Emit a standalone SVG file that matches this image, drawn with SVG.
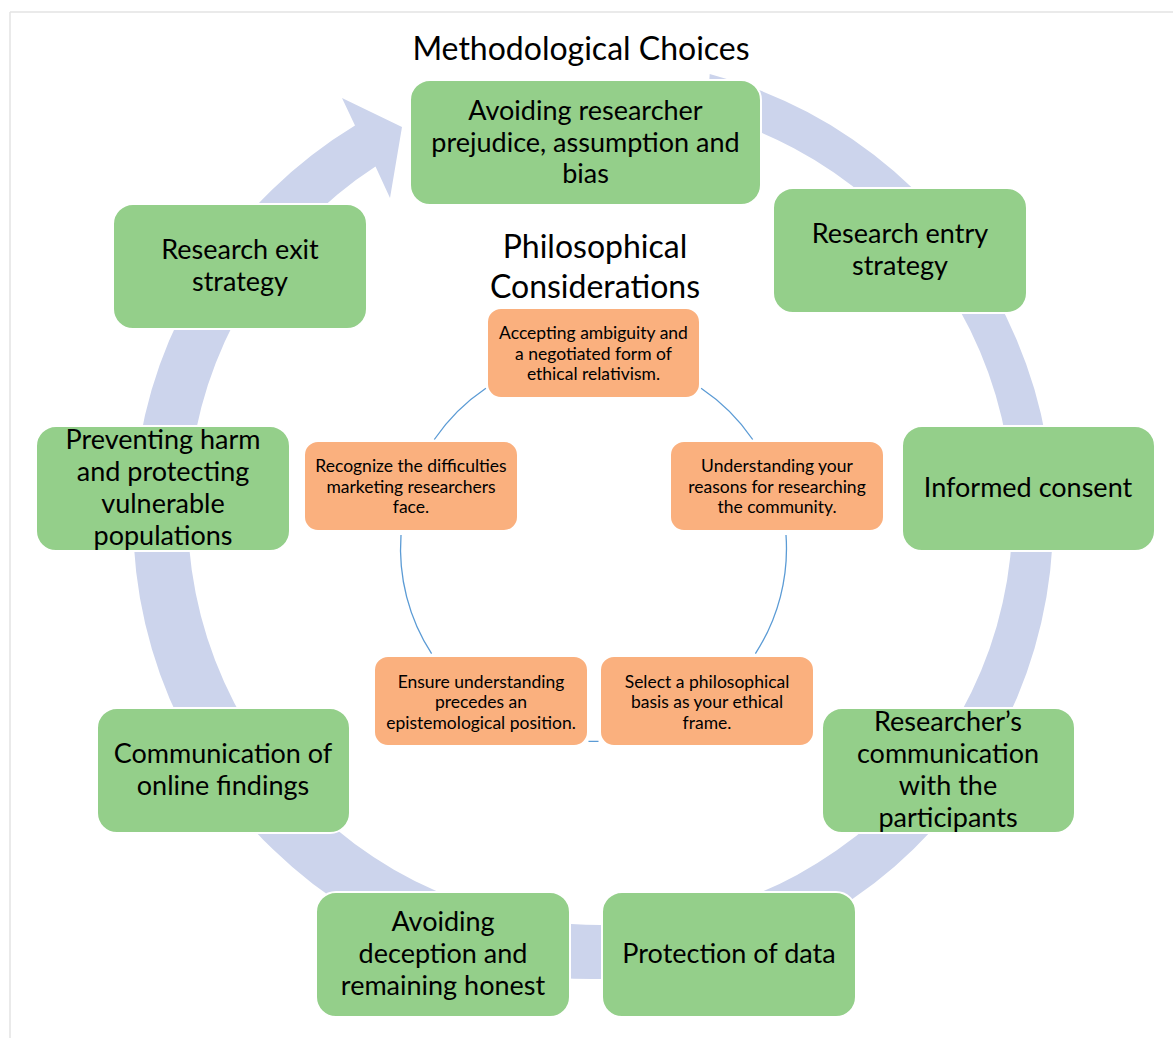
<svg xmlns="http://www.w3.org/2000/svg" width="1173" height="1038" viewBox="0 0 1173 1038">
<style>
.g{fill:#94CF8A;stroke:#fff;stroke-width:2}
.o{fill:#FAB07E;stroke:#fff;stroke-width:2}
.gt{font-family:Lato,"Liberation Sans",sans-serif;font-size:27px;fill:#000;text-anchor:middle}
.ot{font-family:Lato,"Liberation Sans",sans-serif;font-size:17.5px;fill:#000;text-anchor:middle}
.tt{font-family:Lato,"Liberation Sans",sans-serif;font-size:32px;fill:#000;text-anchor:middle}
.arc{fill:none;stroke:#5B9BD5;stroke-width:1.3}
</style>
<rect width="1173" height="1038" fill="#fff"/>
<g id="frame">
<line x1="10" y1="12" x2="1173" y2="12" stroke="#E3E3E3" stroke-width="1.5"/>
<line x1="10" y1="12" x2="10" y2="1038" stroke="#E3E3E3" stroke-width="1.5"/>
</g>
<g id="cycle-arrow">
<path d="M 709.7 74.1 A 460 460 0 1 1 355 125.5 L 342 98 L 402 127 L 390 198 L 375.5 166.5 A 412.5 412.5 0 1 0 707 114 Z" fill="#CCD4EC"/>
</g>
<g id="connectors">
<path class="arc" d="M 701.1 388.3 A 193 193 0 0 1 752.7 439.5"/>
<path class="arc" d="M 786 535 A 193 193 0 0 1 755.4 653.6"/>
<path class="arc" d="M 598.5 741.4 A 193 193 0 0 1 588.5 741.4"/>
<path class="arc" d="M 431.6 653.6 A 193 193 0 0 1 401 535"/>
<path class="arc" d="M 434.3 439.5 A 193 193 0 0 1 485.9 388.3"/>
</g>
<g id="title-methodological"><text class="tt" x="581" y="60">Methodological Choices</text></g>
<g id="title-philosophical"><text class="tt" x="595" y="258">Philosophical</text><text class="tt" x="595" y="298">Considerations</text></g>

<g id="m1"><rect class="g" x="410" y="80" width="351" height="125" rx="20"/>
<text class="gt" x="585.5" y="120">Avoiding researcher</text><text class="gt" x="585.5" y="152">prejudice, assumption and</text><text class="gt" x="585.5" y="183">bias</text></g>
<g id="m2"><rect class="g" x="773" y="188" width="254" height="125" rx="20"/>
<text class="gt" x="900" y="243">Research entry</text><text class="gt" x="900" y="275">strategy</text></g>
<g id="m3"><rect class="g" x="902" y="426" width="253" height="125" rx="20"/>
<text class="gt" x="1028" y="497">Informed consent</text></g>
<g id="m4"><rect class="g" x="822" y="708" width="253" height="125" rx="20"/>
<text class="gt" x="948" y="731">Researcher’s</text><text class="gt" x="948" y="763">communication</text><text class="gt" x="948" y="795">with the</text><text class="gt" x="948" y="827">participants</text></g>
<g id="m5"><rect class="g" x="602" y="892" width="254" height="125" rx="20"/>
<text class="gt" x="729" y="963">Protection of data</text></g>
<g id="m6"><rect class="g" x="316" y="892" width="254" height="125" rx="20"/>
<text class="gt" x="443" y="931">Avoiding</text><text class="gt" x="443" y="963">deception and</text><text class="gt" x="443" y="995">remaining honest</text></g>
<g id="m7"><rect class="g" x="97" y="708" width="253" height="125" rx="20"/>
<text class="gt" x="223" y="763">Communication of</text><text class="gt" x="223" y="795">online findings</text></g>
<g id="m8"><rect class="g" x="36" y="426" width="254" height="125" rx="20"/>
<text class="gt" x="163" y="449">Preventing harm</text><text class="gt" x="163" y="481">and protecting</text><text class="gt" x="163" y="513">vulnerable</text><text class="gt" x="163" y="545">populations</text></g>
<g id="m9"><rect class="g" x="113" y="204" width="254" height="125" rx="20"/>
<text class="gt" x="240" y="259">Research exit</text><text class="gt" x="240" y="291">strategy</text></g>

<g id="p1"><rect class="o" x="487" y="308" width="213" height="90" rx="14"/>
<text class="ot" x="593.5" y="339">Accepting ambiguity and</text><text class="ot" x="593.5" y="359.5">a negotiated form of</text><text class="ot" x="593.5" y="380">ethical relativism.</text></g>
<g id="p2"><rect class="o" x="670" y="441" width="214" height="90" rx="14"/>
<text class="ot" x="777" y="472">Understanding your</text><text class="ot" x="777" y="493">reasons for researching</text><text class="ot" x="777" y="513">the community.</text></g>
<g id="p3"><rect class="o" x="600" y="656" width="214" height="90" rx="14"/>
<text class="ot" x="707" y="688">Select a philosophical</text><text class="ot" x="707" y="708">basis as your ethical</text><text class="ot" x="707" y="728.5">frame.</text></g>
<g id="p4"><rect class="o" x="374" y="656" width="214" height="90" rx="14"/>
<text class="ot" x="481" y="688">Ensure understanding</text><text class="ot" x="481" y="708">precedes an</text><text class="ot" x="481" y="728.5">epistemological position.</text></g>
<g id="p5"><rect class="o" x="304" y="441" width="214" height="90" rx="14"/>
<text class="ot" x="411" y="472">Recognize the difficulties</text><text class="ot" x="411" y="493">marketing researchers</text><text class="ot" x="411" y="513">face.</text></g>
</svg>
